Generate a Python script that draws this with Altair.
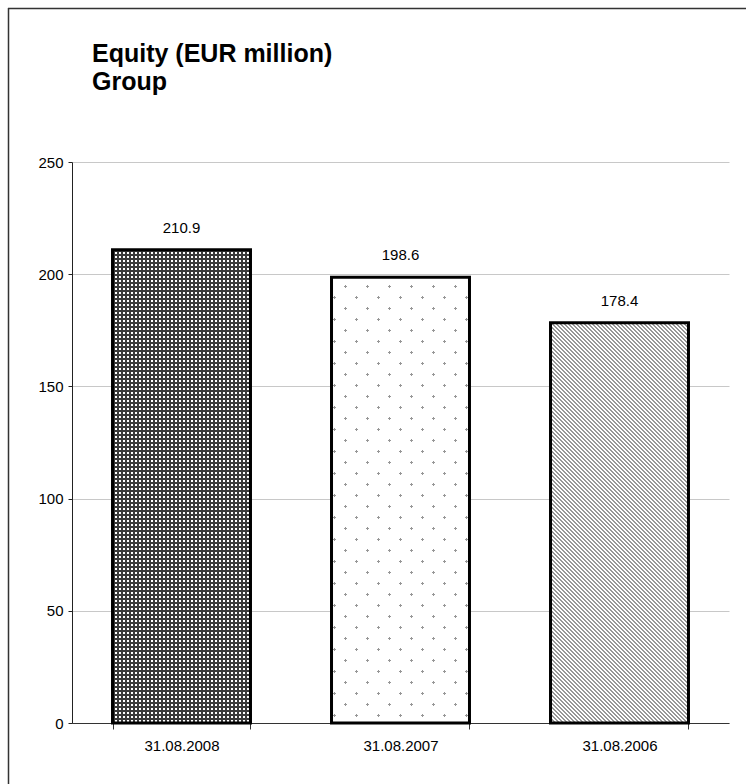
import math
import altair as alt
import pandas as pd

# ---- data ----
dates = ["31.08.2008", "31.08.2007", "31.08.2006"]
equity = [210.9, 198.6, 178.4]
y_ticks = [0, 50, 100, 150, 200, 250]
title_lines = ["Equity (EUR million)", "Group"]

# ---- styles / layout ----
FONT = "Liberation Sans"
bar_fills = ["#ffffff", "#ffffff", "#ffffff"]
CLEAR = "rgba(255,255,255,0)"
W, H = 657, 561
Y_MAX = 250
PAD_IN = 0.37
BAR_W = W / len(dates) * (1 - PAD_IN)


def hard_stops(n, frac, on, off):
    stops = []
    for k in range(n):
        a0, a1, a2 = k / n, (k + frac) / n, (k + 1) / n
        stops += [
            alt.GradientStop(offset=a0, color=on),
            alt.GradientStop(offset=a1, color=on),
            alt.GradientStop(offset=a1, color=off),
            alt.GradientStop(offset=a2, color=off),
        ]
    return stops


def stripe_fill(bar_h, period, frac, on, off, family):
    """Hard-stop linear gradient giving stripes with an exact pixel period.
    'back' = 45deg top-left to bottom-right, 'fwd' = 45deg bottom-left to top-right,
    'rows' = horizontal stripes, 'cols' = vertical stripes."""
    w, h = BAR_W, bar_h
    if family == "rows":
        n = math.ceil(h / period)
        return alt.Gradient(gradient="linear", stops=hard_stops(n, frac, on, off),
                            x1=0, y1=0, x2=0, y2=n * period / h)
    if family == "cols":
        n = math.ceil(w / period)
        return alt.Gradient(gradient="linear", stops=hard_stops(n, frac, on, off),
                            x1=0, y1=0, x2=n * period / w, y2=0)
    b = h / w
    s = (1 + b) / (1 + b * b)
    span = w + h
    n = math.ceil(span / period)
    s2 = s * n * period / span
    stops = hard_stops(n, frac, on, off)
    if family == "back":
        return alt.Gradient(gradient="linear", stops=stops, x1=1, y1=0, x2=1 - s2, y2=b * s2)
    return alt.Gradient(gradient="linear", stops=stops, x1=0, y1=0, x2=s2, y2=b * s2)


df = pd.DataFrame({"date": dates, "equity": equity})

x_enc = alt.X(
    "date:N",
    sort=dates,
    scale=alt.Scale(paddingInner=PAD_IN, paddingOuter=PAD_IN / 2),
    axis=alt.Axis(
        title=None, labelAngle=0, tickBand="extent", grid=False,
        domainColor="#333333", tickColor="#333333", tickSize=6,
        labelPadding=9, labelFontSize=15, labelFont=FONT, labelColor="black",
    ),
)
y_enc = alt.Y(
    "equity:Q",
    scale=alt.Scale(domain=[0, Y_MAX], nice=False),
    axis=alt.Axis(
        title=None, values=y_ticks, tickSize=4, labelPadding=5,
        labelFontSize=15, labelFont=FONT, labelColor="black",
        domainColor="#222222", tickColor="#222222",
        gridColor="#c8c8c8", gridWidth=1,
    ),
)
x_plain = alt.X("date:N", sort=dates)
y_plain = alt.Y("equity:Q")

bars = alt.Chart(df).mark_bar(strokeWidth=0).encode(
    x=x_enc,
    y=y_enc,
    fill=alt.Fill("date:N", scale=alt.Scale(domain=dates, range=bar_fills), legend=None),
)


def one_bar(i):
    return alt.Chart(df).transform_filter(alt.datum.date == dates[i])


# dense dark check for the 2008 bar: dark rows over dark columns leave small white squares
h1 = equity[0] / Y_MAX * H
check_rows = one_bar(0).mark_bar(
    strokeWidth=0, fill=stripe_fill(h1, 4, 0.5, "#3a3a3a", CLEAR, "rows"),
).encode(x=x_plain, y=y_plain)
check_cols = one_bar(0).mark_bar(
    strokeWidth=0, fill=stripe_fill(h1, 4, 0.5, "#3a3a3a", CLEAR, "cols"),
).encode(x=x_plain, y=y_plain)

# dotted fill for the 2007 bar: grey diagonal lines masked by a crossing white mask
h2 = equity[1] / Y_MAX * H
dots_lines = one_bar(1).mark_bar(
    strokeWidth=0, fill=stripe_fill(h2, 22, 3 / 22, "#979797", "#ffffff", "back"),
).encode(x=x_plain, y=y_plain)
dots_mask = one_bar(1).mark_bar(
    strokeWidth=0, fill=stripe_fill(h2, 22, 3 / 22, CLEAR, "#ffffff", "fwd"),
).encode(x=x_plain, y=y_plain)

# diagonal hatching for the 2006 bar
h3 = equity[2] / Y_MAX * H
hatched = one_bar(2).mark_bar(
    strokeWidth=0, fill=stripe_fill(h3, 4, 0.5, "#979797", "#ffffff", "back"),
).encode(x=x_plain, y=y_plain)

outline = alt.Chart(df).mark_bar(
    fillOpacity=0, stroke="black", strokeWidth=3
).encode(x=x_plain, y=y_plain)

labels = alt.Chart(df).mark_text(
    dy=-17, baseline="alphabetic", fontSize=15, font=FONT, color="black"
).encode(
    x=x_plain,
    y=y_plain,
    text=alt.Text("equity:Q", format=".1f"),
)

one = pd.DataFrame({"k": [0]})
frame_top = alt.Chart(one).mark_rule(color="#333333", strokeWidth=1.5).encode(
    x=alt.value(-64), x2=alt.value(700), y=alt.value(-153.5)
)
frame_left = alt.Chart(one).mark_rule(color="#333333", strokeWidth=1.5).encode(
    x=alt.value(-63.5), y=alt.value(-154), y2=alt.value(700)
)

title_style = dict(align="left", baseline="alphabetic", fontSize=25,
                   fontWeight="bold", font=FONT, color="black")
title1 = alt.Chart(one).mark_text(text=title_lines[0], **title_style).encode(
    x=alt.value(20), y=alt.value(-100)
)
title2 = alt.Chart(one).mark_text(text=title_lines[1], **title_style).encode(
    x=alt.value(20), y=alt.value(-72)
)

chart = alt.layer(
    bars, check_rows, check_cols, dots_lines, dots_mask, hatched,
    outline, labels, frame_top, frame_left, title1, title2,
).properties(
    width=W,
    height=H,
    padding={"left": 72, "top": 162, "right": 17, "bottom": 61},
    autosize=alt.AutoSizeParams(type="none"),
    background="white",
).configure_view(stroke=None)

chart.save("out.html", embed_options={"renderer": "svg", "actions": False})
